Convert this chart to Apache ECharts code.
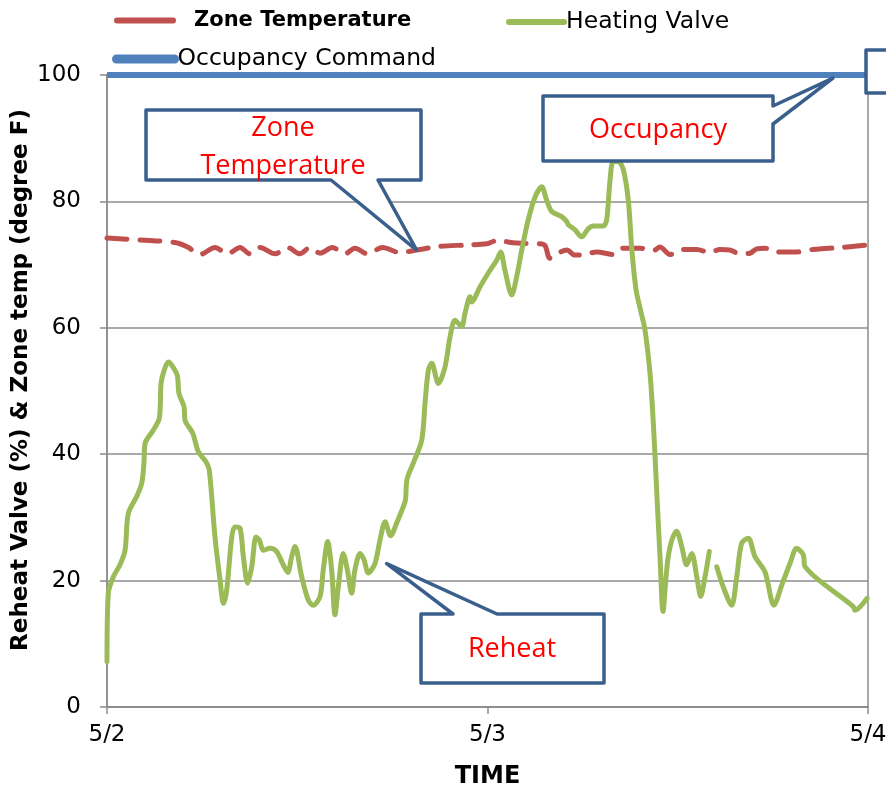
<!DOCTYPE html>
<html>
<head>
<meta charset="utf-8">
<script src="https://cdn.jsdelivr.net/npm/echarts@6/dist/echarts.min.js"></script>
<style>
html,body{margin:0;padding:0;background:#fff;}
#main{width:886px;height:788px;}
</style>
</head>
<body>
<div id="main"></div>
<script>
// ---------- data ----------
const xTickLabels = ['5/2', '5/3', '5/4'];   // every 24 hours
const yTicks = [0, 20, 40, 60, 80, 100];

// Zone Temperature (hours since 5/2 00:00, degree F)
const zoneHours = [0,2.71,4.29,5.08,5.87,6.81,7.60,8.39,9.02,9.65,10.60,11.39,12.17,12.80,13.44,14.22,15.01,15.64,16.43,17.38,18.48,19.53,21.00,22.69,23.95,24.58,25.84,27.31,27.63,27.94,28.45,29.00,29.52,29.94,30.89,31.94,32.57,33.62,34.46,34.88,35.51,36.35,37.20,38.03,38.66,39.29,39.92,40.55,40.98,41.50,42.24,43.50,44.55,46.23,48.00];
const zoneTemps = [74.2,73.8,73.5,72.8,71.6,72.7,71.7,72.7,71.7,72.7,71.7,72.7,71.7,72.7,71.8,72.7,71.7,72.6,71.7,72.7,71.9,72.3,72.9,73.1,73.3,73.8,73.4,73.3,73.0,71.0,71.8,72.3,71.5,71.5,72.0,71.6,72.6,72.6,72.2,72.8,71.6,72.4,72.4,71.9,72.4,72.3,71.7,71.8,72.5,72.6,72.0,72.0,72.4,72.7,73.1];

// Heating Valve (%)
const valveHours = [0,0.08,0.40,0.82,1.14,1.34,1.87,2.19,2.33,2.40,2.92,3.30,3.41,3.61,3.87,4.08,4.43,4.54,4.86,4.92,5.41,5.76,6.24,6.45,6.81,7.13,7.34,7.55,7.87,8.07,8.39,8.60,8.87,9.13,9.40,9.61,9.86,10.28,10.70,11.08,11.40,11.65,11.86,12.28,12.70,13.01,13.44,13.64,13.92,14.17,14.38,14.59,14.90,15.16,15.43,15.64,15.96,16.21,16.48,16.90,17.22,17.54,17.89,18.27,18.69,18.83,18.92,19.32,19.85,20.06,20.27,20.48,20.90,21.32,21.64,21.95,22.37,22.58,22.90,23.00,23.53,24.16,24.58,24.83,25.10,25.53,25.84,26.16,26.57,27.00,27.42,27.73,28.05,28.68,29.00,29.10,29.52,29.94,30.36,30.67,31.30,31.52,31.73,31.93,32.25,32.57,32.88,33.10,33.37,33.68,33.93,34.25,34.46,34.67,34.88,35.07,35.26,35.40,35.64,35.93,36.25,36.56,36.88,37.20,37.45,37.72,37.99,38.20,38.46,38.87,39.40,39.72,40.03,40.45,40.87,41.50,42.07,42.56,43.08,43.50,43.92,44.03,47.07,47.18,47.94];
const valveValues = [7.2,18.0,20.6,22.5,24.8,30.6,33.3,35.4,38.6,41.7,43.8,45.7,51.2,53.3,54.6,54.1,52.5,49.6,47.5,45.4,43.3,40.4,38.8,37.5,26.9,20.1,16.4,18.5,26.9,28.5,28.3,23.8,19.6,22.2,26.9,26.4,24.8,25.1,24.6,22.7,21.3,23.8,25.4,20.6,16.9,16.1,17.5,21.7,26.2,21.7,14.6,19.0,24.3,21.7,18.0,21.7,24.3,23.3,21.2,22.7,26.4,29.3,27.1,29.1,31.7,32.8,36.0,38.6,42.2,48.1,53.3,54.4,51.2,53.8,58.6,61.2,60.2,62.3,64.9,64.1,66.5,69.1,70.7,72.0,69.1,65.2,68.1,72.3,77.1,80.7,82.3,80.2,78.4,77.6,76.8,76.3,75.5,74.4,75.7,76.1,76.1,77.1,83.4,86.3,86.3,85.0,80.2,72.5,66.0,62.5,59.7,52.8,44.9,34.3,23.8,15.1,20.5,23.8,26.5,27.8,25.4,22.5,24.3,20.6,17.5,20.6,24.6,null,22.2,19.0,16.1,20.6,25.9,26.7,23.8,21.4,16.1,19.3,22.7,25.1,24.1,22.2,15.9,15.3,17.2];

// Occupancy Command
const occHours = [0, 48];
const occValues = [100, 100];

// Callout anchors (data coordinates: hour, value)
const zoneCalloutTip = [19.53, 72.3];
const reheatCalloutTip = [17.64, 22.7];
const occCalloutTip = [45.79, 99.5];

// ---------- chart ----------
const RED = '#C0504D', GREEN = '#9BBB59', BLUE = '#4F81BD', CALLOUT = '#3A5F8D';
const AXIS = '#8c8c8c';
const FONT = 'DejaVu Sans';
const zip = (xs, ys) => xs.map((x, i) => [x, ys[i] === null ? '-' : ys[i]]);

const chart = echarts.init(document.getElementById('main'), null, {renderer: 'canvas'});

const hiddenSymbol = {opacity: 0, borderWidth: 0};
const option = {
  animation: false,
  backgroundColor: '#fff',
  textStyle: {fontFamily: FONT},
  grid: {left: 107, right: 18, top: 75, bottom: 81, containLabel: false, outerBoundsMode: 'none',
         show: true, borderColor: AXIS, borderWidth: 1.5, backgroundColor: 'rgba(0,0,0,0)'},
  legend: [
    {data: ['Zone Temperature'], left: 114, top: 10, padding: 0, itemWidth: 56, itemHeight: 14, selectedMode: false,
     textStyle: {fontFamily: FONT, fontWeight: 'bold', fontSize: 21, color: '#000', padding: [0, 0, 0, 16]},
     itemStyle: hiddenSymbol, lineStyle: {type: 'solid', width: 6, cap: 'round'}},
    {data: ['Heating Valve'], left: 506, top: 10, padding: 0, itemWidth: 55, itemHeight: 14, selectedMode: false,
     textStyle: {fontFamily: FONT, fontSize: 23.5, color: '#000', padding: [0, 0, 0, -3]},
     itemStyle: hiddenSymbol, lineStyle: {width: 6, cap: 'round'}},
    {data: ['Occupancy Command'], left: 112, top: 47, padding: 0, itemWidth: 58, itemHeight: 14, selectedMode: false,
     textStyle: {fontFamily: FONT, fontSize: 23.5, color: '#000', padding: [0, 0, 0, -2]},
     itemStyle: hiddenSymbol, lineStyle: {width: 9, cap: 'round'}}
  ],
  xAxis: {
    type: 'value', min: 0, max: 48, interval: 24,
    axisLine: {lineStyle: {color: AXIS, width: 1.5}},
    axisTick: {show: true, length: 7, lineStyle: {color: AXIS, width: 1.5}},
    splitLine: {show: false},
    axisLabel: {formatter: v => xTickLabels[Math.round(v / 24)], fontFamily: FONT, fontSize: 23, color: '#000', margin: 17},
    name: 'TIME', nameLocation: 'middle', nameGap: 58, nameMoveOverlap: false,
    nameTextStyle: {fontFamily: FONT, fontWeight: 'bold', fontSize: 24, color: '#000'}
  },
  yAxis: {
    type: 'value', min: yTicks[0], max: yTicks[yTicks.length - 1], interval: 20,
    axisLine: {show: true, lineStyle: {color: AXIS, width: 1.5}},
    axisTick: {show: true, length: 7, lineStyle: {color: AXIS, width: 1.5}},
    splitLine: {show: true, lineStyle: {color: AXIS, width: 1.5}},
    axisLabel: {fontFamily: FONT, fontSize: 23, color: '#000', margin: 26},
    name: 'Reheat Valve (%) & Zone temp (degree F)', nameLocation: 'middle', nameGap: 74, nameMoveOverlap: false,
    nameTextStyle: {fontFamily: FONT, fontWeight: 'bold', fontSize: 23, color: '#000', padding: [0, 0, 0, 22]}
  },
  series: [
    {name: 'Zone Temperature', type: 'line', data: zip(zoneHours, zoneTemps), symbol: 'none', smooth: 0.3,
     itemStyle: {color: RED}, lineStyle: {color: RED, width: 5, type: [20, 13], cap: 'round', join: 'round'}, z: 2},
    {name: 'Heating Valve', type: 'line', data: zip(valveHours, valveValues), symbol: 'none', smooth: 0.3,
     itemStyle: {color: GREEN}, lineStyle: {color: GREEN, width: 5, cap: 'round', join: 'round'}, z: 3},
    {name: 'Occupancy Command', type: 'line', data: zip(occHours, occValues), symbol: 'none', clip: false,
     itemStyle: {color: BLUE}, lineStyle: {color: BLUE, width: 6}, z: 4}
  ]
};
chart.setOption(option);

// ---------- callouts ----------
const px = p => chart.convertToPixel({gridIndex: 0}, p);
const zt = px(zoneCalloutTip), rt = px(reheatCalloutTip), ot = px(occCalloutTip);
const boxStyle = {fill: '#fff', stroke: CALLOUT, lineWidth: 3.5, lineJoin: 'round'};
const labelFont = '27px "Open Sans"';

chart.setOption({
  graphic: [
    {type: 'polygon', z: 100, shape: {points: [[146,110],[421,110],[421,180],[378,180],zt,[331,180],[146,180]]}, style: boxStyle},
    {type: 'text', z: 101, x: 283, y: 147, style: {text: 'Zone\nTemperature', align: 'center', verticalAlign: 'middle', fill: '#FF0000', font: labelFont, lineHeight: 38}},
    {type: 'polygon', z: 100, shape: {points: [[543,96],[773,96],[773,106],ot,[773,124],[773,161],[543,161]]}, style: boxStyle},
    {type: 'text', z: 101, x: 658, y: 130, style: {text: 'Occupancy', align: 'center', verticalAlign: 'middle', fill: '#FF0000', font: labelFont}},
    {type: 'polygon', z: 100, shape: {points: [[421,614],[453,614],rt,[497,614],[604,614],[604,683],[421,683]]}, style: boxStyle},
    {type: 'text', z: 101, x: 512, y: 649, style: {text: 'Reheat', align: 'center', verticalAlign: 'middle', fill: '#FF0000', font: labelFont}},
    {type: 'rect', z: 100, shape: {x: 866, y: 50, width: 80, height: 43}, style: boxStyle}
  ]
});
</script>
</body>
</html>
